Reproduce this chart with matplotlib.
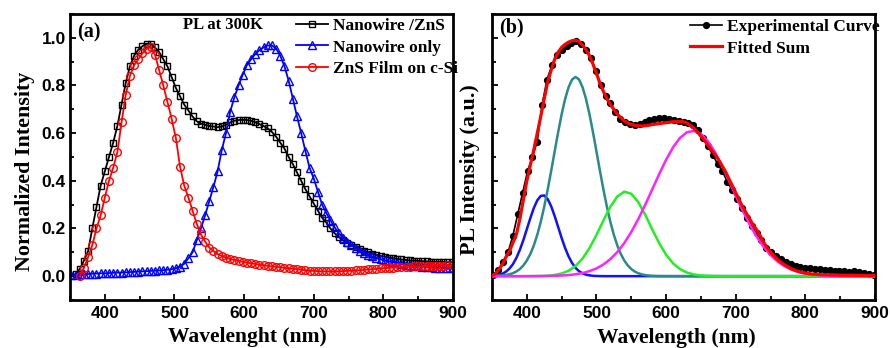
import matplotlib
matplotlib.use("Agg")
import matplotlib.pyplot as plt
from matplotlib.ticker import MultipleLocator, NullFormatter

# ---------------- Panel (a) data ----------------
wl_nw_zns = list(range(358, 899, 6))
nw_zns = [0.01, 0.03, 0.065, 0.105, 0.20, 0.29, 0.38, 0.44, 0.50, 0.56, 0.63, 0.72,
          0.81, 0.88, 0.925, 0.95, 0.965, 0.975, 0.975, 0.96, 0.94, 0.91, 0.88, 0.835,
          0.79, 0.755, 0.72, 0.695, 0.67, 0.65, 0.64, 0.635, 0.63, 0.628, 0.625, 0.628,
          0.635, 0.645, 0.652, 0.655, 0.656, 0.655, 0.652, 0.646, 0.638, 0.63, 0.62, 0.605,
          0.585, 0.56, 0.535, 0.50, 0.47, 0.435, 0.40, 0.365, 0.335, 0.305, 0.275, 0.245,
          0.225, 0.20, 0.18, 0.165, 0.15, 0.14, 0.132, 0.123, 0.115, 0.107, 0.10, 0.095,
          0.09, 0.085, 0.082, 0.078, 0.075, 0.072, 0.07, 0.068, 0.066, 0.065, 0.064, 0.063,
          0.062, 0.061, 0.06, 0.06, 0.06, 0.059, 0.059]

wl_nw_only = list(range(352, 899, 6))
nw_only = [0.005, 0.006, 0.007, 0.008, 0.009, 0.01, 0.011, 0.012, 0.012, 0.013, 0.014, 0.015,
           0.015, 0.016, 0.017, 0.018, 0.019, 0.02, 0.021, 0.022, 0.023, 0.024, 0.025, 0.027,
           0.029, 0.033, 0.04, 0.052, 0.075, 0.10, 0.15, 0.20, 0.255, 0.315, 0.375, 0.44,
           0.53, 0.60, 0.69, 0.75, 0.80, 0.845, 0.885, 0.91, 0.932, 0.948, 0.96, 0.968,
           0.968, 0.955, 0.925, 0.88, 0.82, 0.745, 0.67, 0.60, 0.525, 0.455, 0.41, 0.355,
           0.30, 0.265, 0.235, 0.205, 0.18, 0.16, 0.145, 0.13, 0.118, 0.107, 0.098, 0.09,
           0.083, 0.077, 0.071, 0.066, 0.062, 0.058, 0.054, 0.051, 0.048, 0.046, 0.044, 0.042,
           0.04, 0.038, 0.037, 0.036, 0.035, 0.034, 0.033, 0.033]

wl_zns_film = list(range(364, 899, 6))
zns_film = [0.0, 0.035, 0.08, 0.13, 0.20, 0.255, 0.33, 0.40, 0.455, 0.52, 0.645, 0.76,
            0.84, 0.885, 0.91, 0.935, 0.955, 0.96, 0.93, 0.865, 0.80, 0.73, 0.66, 0.58,
            0.46, 0.38, 0.33, 0.275, 0.22, 0.175, 0.145, 0.12, 0.105, 0.093, 0.085, 0.078,
            0.072, 0.068, 0.064, 0.06, 0.057, 0.054, 0.051, 0.048, 0.046, 0.043, 0.041, 0.039,
            0.037, 0.035, 0.033, 0.031, 0.029, 0.027, 0.025, 0.023, 0.022, 0.021, 0.02, 0.02,
            0.02, 0.02, 0.02, 0.021, 0.022, 0.023, 0.024, 0.025, 0.026, 0.028, 0.029, 0.031,
            0.033, 0.034, 0.035, 0.036, 0.037, 0.038, 0.039, 0.04, 0.041, 0.041, 0.042, 0.042,
            0.043, 0.043, 0.044, 0.044, 0.045, 0.045]

# ---------------- Panel (b) data ----------------
wl_exp = list(range(352, 899, 7))
exp_curve = [0.004, 0.025, 0.06, 0.10, 0.17, 0.26, 0.35, 0.44, 0.50, 0.565, 0.72, 0.825,
             0.885, 0.93, 0.95, 0.965, 0.98, 0.987, 0.975, 0.95, 0.915, 0.86, 0.80, 0.755,
             0.727, 0.69, 0.66, 0.645, 0.638, 0.636, 0.64, 0.648, 0.655, 0.66, 0.664, 0.664,
             0.66, 0.655, 0.65, 0.645, 0.642, 0.635, 0.615, 0.58, 0.545, 0.51, 0.47, 0.44,
             0.395, 0.36, 0.325, 0.285, 0.245, 0.21, 0.18, 0.15, 0.12, 0.10, 0.085, 0.07,
             0.058, 0.05, 0.044, 0.04, 0.036, 0.033, 0.031, 0.029, 0.027, 0.025, 0.023, 0.021,
             0.02, 0.019, 0.02, 0.016, 0.012, 0.008, 0.003]

wl_fit = list(range(350, 901, 5))
fitted_sum = [0.003, 0.01, 0.03, 0.05, 0.08, 0.105, 0.14, 0.175, 0.24, 0.32, 0.40, 0.465,
              0.53, 0.60, 0.67, 0.745, 0.815, 0.865, 0.91, 0.94, 0.96, 0.973, 0.982, 0.988,
              0.99, 0.985, 0.97, 0.95, 0.925, 0.89, 0.85, 0.81, 0.775, 0.745, 0.72, 0.70,
              0.68, 0.665, 0.652, 0.643, 0.637, 0.633, 0.631, 0.63, 0.631, 0.633, 0.636, 0.638,
              0.64, 0.642, 0.644, 0.646, 0.648, 0.649, 0.649, 0.648, 0.642, 0.632, 0.62, 0.605,
              0.587, 0.57, 0.55, 0.53, 0.512, 0.49, 0.465, 0.44, 0.41, 0.38, 0.35, 0.32,
              0.29, 0.265, 0.24, 0.215, 0.195, 0.17, 0.143, 0.12, 0.10, 0.085, 0.07, 0.058,
              0.048, 0.039, 0.031, 0.025, 0.02, 0.016, 0.013, 0.011, 0.009, 0.008, 0.007, 0.006,
              0.006, 0.005, 0.005, 0.005, 0.004, 0.004, 0.004, 0.004, 0.004, 0.003, 0.003, 0.003,
              0.003, 0.003, 0.003]

wl_narrow = list(range(350, 601, 5)) + [900]
peak_blue = [0.0014, 0.0029, 0.0056, 0.0105, 0.0187, 0.0315, 0.0503, 0.0765, 0.1104, 0.1513,
             0.1969, 0.2433, 0.2855, 0.3182, 0.3368, 0.3386, 0.3232, 0.293, 0.2522, 0.2062,
             0.1601, 0.118, 0.0827, 0.055, 0.0347, 0.0208, 0.0119, 0.0064, 0.0033, 0.0016,
             0.0007, 0.0003, 0.0001, 0, 0, 0, 0, 0, 0, 0, 0, 0, 0, 0, 0, 0, 0, 0, 0, 0, 0, 0]
peak_teal = [0.0005, 0.0009, 0.0015, 0.0027, 0.0046, 0.0076, 0.0124, 0.0195, 0.0299, 0.0448,
             0.0654, 0.0928, 0.1285, 0.1732, 0.2277, 0.2915, 0.3637, 0.442, 0.5236, 0.604,
             0.679, 0.7436, 0.793, 0.825, 0.836, 0.825, 0.793, 0.7436, 0.679, 0.604,
             0.5236, 0.442, 0.3637, 0.2915, 0.2277, 0.1732, 0.1285, 0.0928, 0.0654, 0.0448,
             0.0299, 0.0195, 0.0124, 0.0076, 0.0046, 0.0027, 0.0015, 0.0009, 0.0005, 0.0003,
             0.0001, 0]

wl_broad = list(range(350, 901, 10))
peak_green = [0, 0, 0, 0, 0, 0.0001, 0.0003, 0.0008, 0.0021, 0.0051, 0.0112, 0.0228,
              0.0428, 0.0739, 0.1178, 0.1728, 0.2337, 0.2913, 0.3347, 0.3544, 0.3458, 0.311,
              0.2578, 0.1969, 0.1386, 0.0899, 0.0538, 0.0296, 0.0151, 0.007, 0.003, 0.0012,
              0.0004, 0.0001, 0, 0, 0, 0, 0, 0, 0, 0, 0, 0, 0, 0, 0, 0, 0, 0, 0, 0, 0, 0, 0, 0]
peak_magenta = [0, 0, 0, 0, 0, 0.0001, 0.0002, 0.0004, 0.0008, 0.0015, 0.0026, 0.0047,
                0.0079, 0.0131, 0.021, 0.0325, 0.049, 0.0716, 0.1013, 0.1391, 0.1853, 0.2391,
                0.2994, 0.3635, 0.4279, 0.4884, 0.5406, 0.5804, 0.604, 0.6096, 0.5966, 0.5662,
                0.5211, 0.465, 0.4024, 0.3376, 0.2747, 0.2167, 0.1659, 0.123, 0.0885, 0.0617,
                0.0418, 0.0274, 0.0174, 0.0107, 0.0064, 0.0037, 0.0021, 0.0011, 0.0006, 0.0003,
                0.0002, 0.0001, 0, 0]

legend_a = ["Nanowire /ZnS", "Nanowire only", "ZnS Film on c-Si"]
legend_b = ["Experimental Curve", "Fitted Sum"]
xticks = [400, 500, 600, 700, 800, 900]
yticks_a = [0.0, 0.2, 0.4, 0.6, 0.8, 1.0]

SERIF = "Liberation Serif"
SANS = "Liberation Sans"
W, H = 890, 348

fig = plt.figure(figsize=(W / 100, H / 100), dpi=100)

def px_axes(x0, x1, y0, y1):
    return fig.add_axes([x0 / W, 1 - y1 / H, (x1 - x0) / W, (y1 - y0) / H])

ax_a = px_axes(70, 453, 14, 300)
ax_b = px_axes(492, 875, 14, 300)

for ax in (ax_a, ax_b):
    ax.set_xlim(350, 900)
    ax.set_ylim(-0.1, 1.1)
    ax.set_xticks(xticks)
    ax.xaxis.set_minor_locator(MultipleLocator(50))
    ax.set_yticks(yticks_a)
    ax.yaxis.set_minor_locator(MultipleLocator(0.1))
    ax.tick_params(which="both", direction="in", top=False, right=False, width=1.3)
    ax.tick_params(which="major", length=4.5)
    ax.tick_params(which="minor", length=3)
    ax.tick_params(axis="x", pad=4)
    ax.tick_params(axis="y", pad=3)
    for s in ax.spines.values():
        s.set_linewidth(2.0)
    for lab in ax.get_xticklabels() + ax.get_yticklabels():
        lab.set_fontfamily(SANS)
        lab.set_fontweight("bold")
        lab.set_fontsize(12.5)

leg_prop = {"family": SERIF, "weight": "bold", "size": 12.5}

# ---- panel (a) ----
lw = 1.3
ax_a.plot(wl_nw_zns, nw_zns, color="black", lw=lw, marker="s", ms=5, mfc="none",
          mec="black", mew=1.0, label=legend_a[0])
ax_a.plot(wl_nw_only, nw_only, color="#0000ff", lw=lw, marker="^", ms=6, mfc="none",
          mec="#0000ff", mew=1.0, label=legend_a[1])
ax_a.plot(wl_zns_film, zns_film, color="#ff0000", lw=lw, marker="o", ms=5.5, mfc="none",
          mec="#ff0000", mew=1.0, label=legend_a[2])
ax_a.set_xlabel("Wavelenght (nm)", fontfamily=SERIF, fontweight="bold", fontsize=15.5)
ax_a.xaxis.set_label_coords((247 - 70) / 383, -(337 - 300) / 286)
ax_a.xaxis.label.set_va("center")
ax_a.set_ylabel("Normalized Intensity", fontfamily=SERIF, fontweight="bold", fontsize=15.8)
ax_a.yaxis.set_label_coords(-(70 - 25) / 383, (300 - 171) / 286)
ax_a.yaxis.label.set_va("center")
ax_a.legend(loc="upper left", bbox_to_anchor=(296 / W, 1 - 18 / H),
            bbox_transform=fig.transFigure, frameon=False, borderpad=0, borderaxespad=0,
            handlelength=1.85, handletextpad=0.3, labelspacing=0.3,
            numpoints=1, prop=leg_prop)
fig.text(77 / W, 1 - 32 / H, "(a)", fontfamily=SERIF, fontweight="bold", fontsize=14.5,
         va="center", ha="left")
fig.text(183 / W, 1 - 25 / H, "PL at 300K", fontfamily=SERIF, fontweight="bold",
         fontsize=12, va="center", ha="left")

# ---- panel (b) ----
ax_b.plot(wl_exp, exp_curve, color="black", lw=1.2, marker="o", ms=4.2, mfc="black",
          mec="black", label=legend_b[0], zorder=2)
ax_b.plot(wl_narrow, peak_blue, color="#1010ff", lw=1.8, zorder=3)
ax_b.plot(wl_narrow, peak_teal, color="#2a8a8a", lw=1.8, zorder=3)
ax_b.plot(wl_broad, peak_green, color="#22ee22", lw=1.8, zorder=3)
ax_b.plot(wl_broad, peak_magenta, color="#ff22ff", lw=1.8, zorder=3)
ax_b.plot(wl_fit, fitted_sum, color="#ff0000", lw=2.3, label=legend_b[1], zorder=4)
ax_b.yaxis.set_major_formatter(NullFormatter())
ax_b.set_xlabel("Wavelength (nm)", fontfamily=SERIF, fontweight="bold", fontsize=15.5)
ax_b.xaxis.set_label_coords((676 - 492) / 383, -(338 - 300) / 286)
ax_b.xaxis.label.set_va("center")
ax_b.set_ylabel("PL Intensity (a.u.)", fontfamily=SERIF, fontweight="bold", fontsize=15.8)
ax_b.yaxis.set_label_coords(-(492 - 470) / 383, (300 - 170) / 286)
ax_b.yaxis.label.set_va("center")
ax_b.legend(loc="upper left", bbox_to_anchor=(690 / W, 1 - 19 / H),
            bbox_transform=fig.transFigure, frameon=False, borderpad=0, borderaxespad=0,
            handlelength=1.85, handletextpad=0.3, labelspacing=0.3,
            numpoints=1, prop=leg_prop)
fig.text(499 / W, 1 - 27 / H, "(b)", fontfamily=SERIF, fontweight="bold", fontsize=14.5,
         va="center", ha="left")

fig.savefig("out.png", dpi=100)
